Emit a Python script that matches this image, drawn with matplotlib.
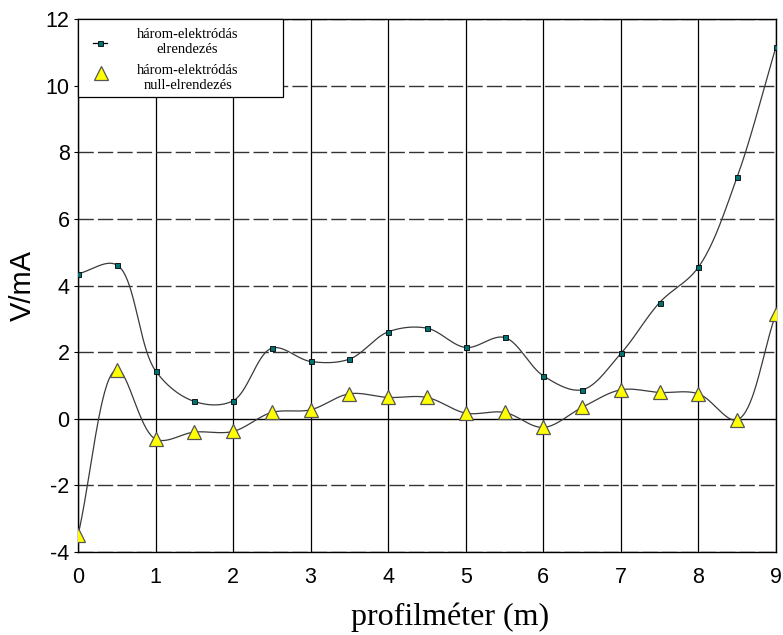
import numpy as np
import matplotlib
matplotlib.use("Agg")
import matplotlib.pyplot as plt
from matplotlib.patches import Rectangle
from matplotlib.lines import Line2D

plt.rcParams['axes.unicode_minus'] = False

# profile positions (m)
x_pos = [0, 0.5, 1, 1.5, 2, 2.5, 3, 3.5, 4, 4.5, 5, 5.5, 6, 6.5, 7, 7.5, 8, 8.5, 9]

# három-elektródás elrendezés
v_normal = [4.35, 4.62, 1.44, 0.52, 0.54, 2.12, 1.72, 1.79, 2.61, 2.72,
            2.14, 2.44, 1.29, 0.87, 1.96, 3.49, 4.55, 7.26, 11.16]

# három-elektródás null-elrendezés
v_null = [-3.5, 1.47, -0.61, -0.40, -0.38, 0.19, 0.27, 0.75, 0.64, 0.64,
          0.17, 0.19, -0.26, 0.34, 0.87, 0.79, 0.75, -0.03, 3.15]

labels = ["három-elektródás\nelrendezés", "három-elektródás\nnull-elrendezés"]
x_ticks = list(range(0, 10))
y_ticks = list(range(-4, 13, 2))


def smooth(x, y, yscale=0.43, n=40, alpha=0.5):
    """ Centripetal Catmull-Rom curve through the points (screen-like scaling). """
    P = np.column_stack([np.asarray(x, float), np.asarray(y, float) * yscale])
    P = np.vstack([2 * P[0] - P[1], P, 2 * P[-1] - P[-2]])
    out = []
    for i in range(1, len(P) - 2):
        p0, p1, p2, p3 = P[i - 1], P[i], P[i + 1], P[i + 2]
        t0 = 0.0
        t1 = t0 + np.linalg.norm(p1 - p0) ** alpha
        t2 = t1 + np.linalg.norm(p2 - p1) ** alpha
        t3 = t2 + np.linalg.norm(p3 - p2) ** alpha
        t = np.linspace(t1, t2, n)[:, None]
        a1 = (t1 - t) / (t1 - t0) * p0 + (t - t0) / (t1 - t0) * p1
        a2 = (t2 - t) / (t2 - t1) * p1 + (t - t1) / (t2 - t1) * p2
        a3 = (t3 - t) / (t3 - t2) * p2 + (t - t2) / (t3 - t2) * p3
        b1 = (t2 - t) / (t2 - t0) * a1 + (t - t0) / (t2 - t0) * a2
        b2 = (t3 - t) / (t3 - t1) * a2 + (t - t1) / (t3 - t1) * a3
        c = (t2 - t) / (t2 - t1) * b1 + (t - t1) / (t2 - t1) * b2
        out.append(c)
    C = np.vstack(out)
    return C[:, 0], C[:, 1] / yscale


fig = plt.figure(figsize=(7.83, 6.35), dpi=100)
ax = fig.add_axes([0.0996, 0.1307, 0.8914, 0.8393])

# grid
for xv in x_ticks:
    ax.axvline(xv, color="black", lw=0.9, zorder=1)
for yv in y_ticks:
    if yv == 0:
        ax.axhline(yv, color="black", lw=1.0, zorder=1)
    else:
        ax.axhline(yv, color="#333333", lw=1.0, ls=(0, (11, 3)), zorder=1)

sq_style = dict(marker="s", ms=3.6, mfc="#007070", mec="black", mew=0.6)
tri_style = dict(marker="^", ms=9.5, mfc="#ffff00", mec="#555555", mew=0.9)

xs, ys = smooth(x_pos, v_normal)
ax.plot(xs, ys, color="#3a3a3a", lw=0.9, zorder=2)
ax.plot(x_pos, v_normal, ls="none", zorder=3, **sq_style)

xs, ys = smooth(x_pos, v_null)
ax.plot(xs, ys, color="#3a3a3a", lw=0.9, zorder=2)
ax.plot(x_pos, v_null, ls="none", zorder=3, **tri_style)

# legend box, drawn by hand so the text can sit centred
tr = ax.transAxes
ax.add_patch(Rectangle((0, 0.854), 0.294, 0.146, transform=tr, fc="white",
                       ec="black", lw=0.9, zorder=5, clip_on=False))
ax.add_line(Line2D([0.021, 0.0315, 0.042], [0.955, 0.955, 0.955], transform=tr,
                   color="black", lw=0.9, markevery=[1], zorder=6, **sq_style))
ax.add_line(Line2D([0.0325], [0.899], transform=tr, ls="none", zorder=6,
                   **tri_style))
for lab, yc in zip(labels, [0.957, 0.889]):
    ax.text(0.157, yc, lab, transform=tr, ha="center", va="center",
            multialignment="center", family="Liberation Serif", fontsize=10.5,
            linespacing=1.25, zorder=6)

ax.set_xlim(0, 9)
ax.set_ylim(-4, 12)
ax.set_xticks(x_ticks)
ax.set_yticks(y_ticks)
ax.tick_params(axis="both", labelsize=15.5, length=3, width=0.8, pad=3,
               colors="black")
ax.tick_params(axis="x", length=0, pad=11)
for lab in ax.get_xticklabels() + ax.get_yticklabels():
    lab.set_family("Liberation Sans")

ax.set_ylabel("V/mA", fontsize=21, family="Liberation Sans", va="center")
ax.yaxis.set_label_coords(-0.079, 0.5)
ax.set_xlabel("profilméter (m)", fontsize=23, family="Liberation Serif")
ax.xaxis.set_label_coords(0.533, -0.095)

for s in ax.spines.values():
    s.set_color("black")
    s.set_linewidth(1.0)

fig.savefig("out.png", dpi=100)
